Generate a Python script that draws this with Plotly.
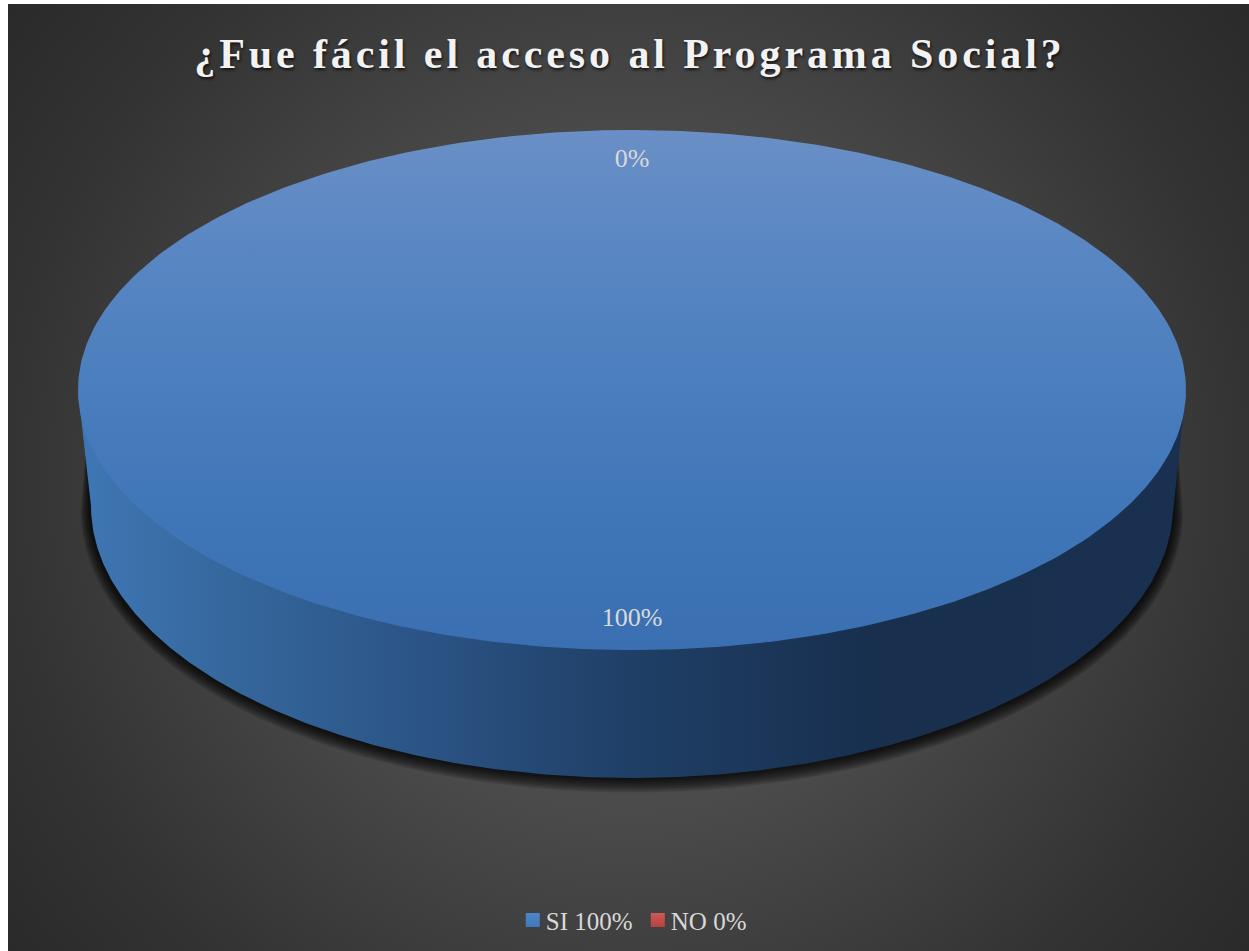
import numpy as np
import plotly.graph_objects as go

TITLE = "¿Fue fácil el acceso al Programa Social?"
categories = ["SI", "NO"]
values = [100, 0]
colors = ["#4f86c9", "#cc5a57"]
colors_dark = ["#3f78bb", "#b8423f"]

W, H = 1249, 951
X0, Y0 = 8, 4
cx, cy, rx, ry = 632, 390, 554, 260
bcy, brx, bry = 506, 541, 272

total = sum(values)
pct = [v / total for v in values]


def arc(a0, a1, c_y, r_x, r_y, n=360):
    t = np.linspace(a0, a1, n)
    return cx + r_x * np.sin(t), c_y - r_y * np.cos(t)


fig = go.Figure()

# background with a circular glow
fig.add_trace(go.Scatter(
    x=[-150, 1410, 1410, -150, -150], y=[-300, -300, 1260, 1260, -300],
    mode="lines", line=dict(width=0), fill="toself", showlegend=False, hoverinfo="skip",
    fillgradient=dict(type="radial", colorscale=[[0, "#535353"], [0.42, "#4b4b4b"], [0.8, "#333333"], [1, "#2a2a2a"]]),
))

# soft shadow under the drum
for e in [17, 15, 13, 11, 9, 7, 5, 3, 1]:
    sx, sy = arc(np.pi / 2, 3 * np.pi / 2, bcy + e * 0.3, brx + e * 0.6, bry + e * 0.55)
    fig.add_trace(go.Scatter(
        x=np.r_[cx + rx - 10, sx, cx - rx + 10, cx + rx - 10], y=np.r_[cy + 30, sy, cy + 30, cy + 30],
        mode="lines", line=dict(width=0), fill="toself", fillcolor="rgba(0,0,0,0.14)",
        showlegend=False, hoverinfo="skip",
    ))

# drum wall and top, slice by slice
start = 0.0
label_x, label_y = [], []
for i, p in enumerate(pct):
    a0, a1 = start * 2 * np.pi, (start + p) * 2 * np.pi
    mid = (a0 + a1) / 2
    label_x.append(cx + rx * 0.881 * np.sin(mid))
    label_y.append(cy - ry * 0.881 * np.cos(mid))
    start += p
    if p == 0:
        continue
    wx, wy = arc(np.pi / 2, 3 * np.pi / 2, bcy, brx, bry)
    fig.add_trace(go.Scatter(
        x=np.r_[cx + rx, wx, cx - rx, cx + rx], y=np.r_[cy, wy, cy, cy],
        mode="lines", line=dict(width=0), fill="toself", showlegend=False, hoverinfo="skip",
        fillgradient=dict(type="horizontal", colorscale=[
            [0, "#3f77b5"], [0.12, "#36699f"], [0.3, "#2c5587"], [0.5, "#1f3f66"],
            [0.72, "#182f4e"], [1, "#1a3050"]]),
    ))
    tx, ty = arc(a0, a1, cy, rx, ry)
    fig.add_trace(go.Scatter(
        x=tx, y=ty, mode="lines", line=dict(width=0), fill="toself", showlegend=False, hoverinfo="skip",
        fillgradient=dict(type="vertical", colorscale=[
            [0, "#3a70b2"], [0.25, "#3f76b8"], [0.5, "#4a7ebd"], [0.75, "#5886c3"], [1, "#6a8fc6"]]),
    ))

# data labels
fig.add_trace(go.Scatter(
    x=label_x, y=label_y, mode="text", showlegend=False, hoverinfo="skip",
    text=[f"{round(p * 100)}%" for p in pct],
    textposition="middle center",
    textfont=dict(family="Liberation Serif", size=26, color="#d9d9d9"),
))

# legend entries
for c, v, col, dark in zip(categories, values, colors, colors_dark):
    fig.add_trace(go.Scatter(
        x=[None], y=[None], mode="markers", name=f"{c} {round(v / total * 100)}%",
        marker=dict(symbol="square", size=14, color=col, gradient=dict(type="vertical", color=dark)),
    ))

fig.update_layout(
    width=W, height=H,
    margin=dict(l=X0, t=Y0, r=0, b=0, pad=0),
    paper_bgcolor="white", plot_bgcolor="#2a2a2a",
    xaxis=dict(range=[X0, W], visible=False, fixedrange=True),
    yaxis=dict(range=[H, Y0], visible=False, fixedrange=True),
    title=dict(
        text=f"<b>{TITLE}</b>", x=630 / W, xanchor="center", y=1 - 53 / H, yanchor="middle",
        font=dict(family="Liberation Serif", size=42, color="#f2f2f2", shadow="1px 2px 3px rgba(0,0,0,0.7)"),
    ),
    legend=dict(
        orientation="h", x=501 / W, xanchor="left", y=1 - 920 / H, yanchor="middle",
        bgcolor="rgba(0,0,0,0)", itemwidth=30, itemclick=False, itemdoubleclick=False,
        entrywidth=80, entrywidthmode="pixels",
        font=dict(family="Liberation Serif", size=25, color="#d9d9d9"),
    ),
    showlegend=True,
)

post = """
document.body.style.margin='0';
document.body.style.overflow='hidden';
document.querySelectorAll('.gtitle').forEach(function(e){e.style.letterSpacing='3.9px';});
document.querySelectorAll('.legend .legendpoints').forEach(function(e){e.setAttribute('transform','translate(7,0)');});
"""
fig.write_html("out.html", post_script=post, config=dict(displayModeBar=False))
